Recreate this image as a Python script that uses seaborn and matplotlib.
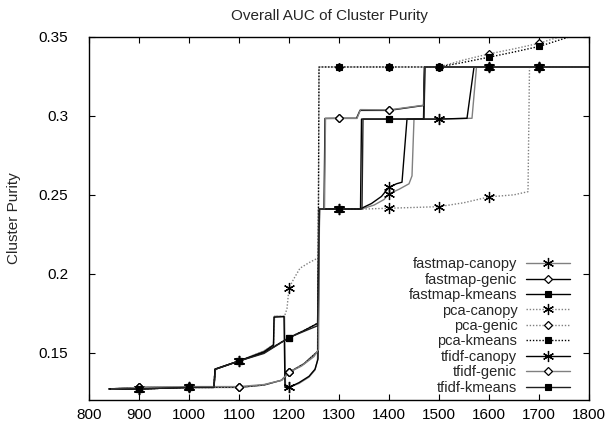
import matplotlib
matplotlib.use("Agg")
import matplotlib.pyplot as plt
import seaborn as sns
import numpy as np

# ---- data ----
marker_x = [900, 1000, 1100, 1200, 1300, 1400, 1500, 1600, 1700]

fastmap_canopy_x = [840, 900, 1000, 1050, 1052, 1100, 1150, 1169, 1171, 1191, 1193, 1200, 1220, 1240, 1252, 1257, 1259, 1300, 1345, 1370, 1390, 1400, 1420, 1440, 1446, 1450, 1500, 1566, 1575, 1600, 1700, 1800]
fastmap_canopy_y = [0.127, 0.127, 0.128, 0.128, 0.1395, 0.1447, 0.151, 0.155, 0.173, 0.173, 0.128, 0.128, 0.1305, 0.1345, 0.139, 0.145, 0.241, 0.241, 0.241, 0.2435, 0.247, 0.2506, 0.2535, 0.257, 0.262, 0.298, 0.298, 0.2985, 0.331, 0.331, 0.331, 0.331]

fastmap_genic_x = [840, 900, 1000, 1100, 1150, 1185, 1200, 1230, 1258, 1260, 1270, 1272, 1300, 1335, 1342, 1400, 1469, 1471, 1500, 1600, 1700, 1800]
fastmap_genic_y = [0.127, 0.128, 0.128, 0.128, 0.1295, 0.1325, 0.1375, 0.143, 0.151, 0.241, 0.241, 0.2984, 0.2985, 0.2985, 0.3035, 0.3035, 0.3066, 0.331, 0.331, 0.331, 0.331, 0.331]

fastmap_kmeans_x = [840, 900, 1000, 1050, 1052, 1100, 1150, 1200, 1230, 1258, 1260, 1300, 1343, 1345, 1400, 1469, 1471, 1500, 1600, 1700, 1800]
fastmap_kmeans_y = [0.127, 0.127, 0.128, 0.128, 0.1395, 0.1447, 0.150, 0.1595, 0.164, 0.1687, 0.241, 0.241, 0.241, 0.298, 0.298, 0.298, 0.331, 0.331, 0.331, 0.331, 0.331]

pca_canopy_x = [840, 900, 1000, 1050, 1052, 1100, 1150, 1169, 1171, 1191, 1196, 1200, 1210, 1222, 1240, 1258, 1260, 1300, 1350, 1400, 1450, 1500, 1550, 1600, 1650, 1678, 1681, 1700, 1800]
pca_canopy_y = [0.127, 0.127, 0.128, 0.128, 0.1395, 0.1447, 0.151, 0.155, 0.173, 0.173, 0.178, 0.191, 0.197, 0.2035, 0.207, 0.210, 0.241, 0.241, 0.241, 0.2415, 0.242, 0.2425, 0.245, 0.2487, 0.250, 0.252, 0.331, 0.331, 0.331]

pca_genic_x = [840, 900, 1000, 1100, 1150, 1185, 1200, 1230, 1258, 1260, 1300, 1400, 1500, 1550, 1600, 1650, 1700, 1760, 1800]
pca_genic_y = [0.127, 0.128, 0.128, 0.128, 0.1295, 0.1325, 0.1375, 0.143, 0.151, 0.331, 0.331, 0.331, 0.331, 0.3355, 0.3393, 0.3425, 0.346, 0.352, 0.355]

pca_kmeans_x = [840, 900, 1000, 1050, 1052, 1100, 1150, 1200, 1230, 1258, 1260, 1300, 1400, 1500, 1550, 1600, 1650, 1700, 1780, 1800]
pca_kmeans_y = [0.127, 0.127, 0.128, 0.128, 0.1395, 0.1447, 0.150, 0.1595, 0.164, 0.1687, 0.331, 0.331, 0.331, 0.331, 0.334, 0.3372, 0.3405, 0.344, 0.352, 0.353]

tfidf_canopy_x = [842, 900, 1000, 1050, 1052, 1100, 1150, 1169, 1170, 1190, 1192, 1200, 1220, 1240, 1252, 1258, 1261, 1300, 1342, 1365, 1385, 1400, 1415, 1426, 1436, 1500, 1556, 1570, 1600, 1700, 1800]
tfidf_canopy_y = [0.127, 0.127, 0.128, 0.128, 0.1395, 0.1447, 0.1505, 0.1548, 0.1725, 0.1728, 0.128, 0.128, 0.131, 0.135, 0.1395, 0.146, 0.241, 0.241, 0.241, 0.2445, 0.249, 0.2548, 0.257, 0.258, 0.298, 0.298, 0.2985, 0.331, 0.331, 0.331, 0.331]

tfidf_genic_x = [845, 900, 1000, 1100, 1150, 1185, 1200, 1225, 1250, 1259, 1261, 1271, 1273, 1300, 1336, 1343, 1400, 1470, 1472, 1500, 1600, 1700, 1800]
tfidf_genic_y = [0.127, 0.128, 0.1285, 0.1285, 0.1298, 0.1325, 0.1375, 0.1415, 0.1475, 0.152, 0.241, 0.241, 0.2984, 0.2984, 0.2984, 0.304, 0.3038, 0.3068, 0.331, 0.331, 0.331, 0.331, 0.331]

tfidf_kmeans_x = [845, 900, 1000, 1050, 1053, 1100, 1150, 1200, 1230, 1257, 1261, 1300, 1346, 1348, 1400, 1470, 1472, 1500, 1600, 1700, 1800]
tfidf_kmeans_y = [0.127, 0.127, 0.128, 0.128, 0.1395, 0.1447, 0.1495, 0.1595, 0.1635, 0.167, 0.241, 0.241, 0.241, 0.298, 0.298, 0.298, 0.331, 0.331, 0.331, 0.331, 0.331]

series_names = ["fastmap-canopy", "fastmap-genic", "fastmap-kmeans",
                "pca-canopy", "pca-genic", "pca-kmeans",
                "tfidf-canopy", "tfidf-genic", "tfidf-kmeans"]

x_ticks = [800, 900, 1000, 1100, 1200, 1300, 1400, 1500, 1600, 1700, 1800]
y_ticks = [0.15, 0.2, 0.25, 0.3, 0.35]
y_tick_labels = ["0.15", "0.2", "0.25", "0.3", "0.35"]

# ---- styling ----
sns.set_style("ticks")
plt.rcParams["font.family"] = ["Liberation Sans", "DejaVu Sans"]

GRAY = "#808080"
DOT = (0, (1, 1.3))
star = (6, 2, 0)
styles = {
    "fastmap-canopy": dict(color=GRAY, ls="-", marker=star),
    "fastmap-genic": dict(color="black", ls="-", marker="D"),
    "fastmap-kmeans": dict(color="black", ls="-", marker="s"),
    "pca-canopy": dict(color=GRAY, ls=DOT, marker=star),
    "pca-genic": dict(color=GRAY, ls=DOT, marker="D"),
    "pca-kmeans": dict(color="black", ls=DOT, marker="s"),
    "tfidf-canopy": dict(color="black", ls="-", marker=star),
    "tfidf-genic": dict(color=GRAY, ls="-", marker="D"),
    "tfidf-kmeans": dict(color="#202020", ls="-", marker="s"),
}
data = {
    "fastmap-canopy": (fastmap_canopy_x, fastmap_canopy_y),
    "fastmap-genic": (fastmap_genic_x, fastmap_genic_y),
    "fastmap-kmeans": (fastmap_kmeans_x, fastmap_kmeans_y),
    "pca-canopy": (pca_canopy_x, pca_canopy_y),
    "pca-genic": (pca_genic_x, pca_genic_y),
    "pca-kmeans": (pca_kmeans_x, pca_kmeans_y),
    "tfidf-canopy": (tfidf_canopy_x, tfidf_canopy_y),
    "tfidf-genic": (tfidf_genic_x, tfidf_genic_y),
    "tfidf-kmeans": (tfidf_kmeans_x, tfidf_kmeans_y),
}

fig = plt.figure(figsize=(6.1, 4.23), dpi=100)
ax = fig.add_axes([89 / 610, 1 - 400 / 423, 500 / 610, 363 / 423])

for name in series_names:
    xs, ys = data[name]
    st = styles[name]
    idx = [i for i, xv in enumerate(xs) if xv in marker_x]
    m = st["marker"]
    if m == "D":
        mfc, ms, mew = "white", 4.5, 0.9
    elif m == "s":
        mfc, ms, mew = "black", 4.5, 0.8
    else:
        mfc, ms, mew = "black", 8, 0.9
    sns.lineplot(x=xs, y=ys, ax=ax, sort=False, estimator=None,
                 color=st["color"], linestyle=st["ls"], linewidth=1.0,
                 marker=m, markevery=idx, markersize=ms,
                 markerfacecolor=mfc, markeredgecolor="black",
                 markeredgewidth=mew, label=name)

ax.set_xlim(800, 1800)
ax.set_ylim(0.12, 0.35)
ax.set_xticks(x_ticks)
ax.set_xticklabels([str(v) for v in x_ticks])
ax.set_yticks(y_ticks)
ax.set_yticklabels(y_tick_labels)
ax.tick_params(axis="both", direction="in", length=4, width=0.8,
               top=True, right=True, labelsize=11, colors="black")
ax.tick_params(axis="y", pad=15)
ax.tick_params(axis="x", pad=6)
for sp in ax.spines.values():
    sp.set_visible(True)
    sp.set_color("black")
    sp.set_linewidth(1.0)

ax.set_xlabel("")
ax.set_ylabel("Cluster Purity", fontsize=11)
ax.yaxis.set_label_coords(-0.135, 0.5)
fig.text(0.54, 0.963, "Overall AUC of Cluster Purity", ha="center", va="center", fontsize=11)

leg = ax.legend(loc="lower right", bbox_to_anchor=(0.985, -0.018), frameon=False,
                markerfirst=False, fontsize=10.5, handlelength=3.0,
                handletextpad=0.6, labelspacing=0.1, borderpad=0.3)

fig.savefig("out.png", dpi=100)
